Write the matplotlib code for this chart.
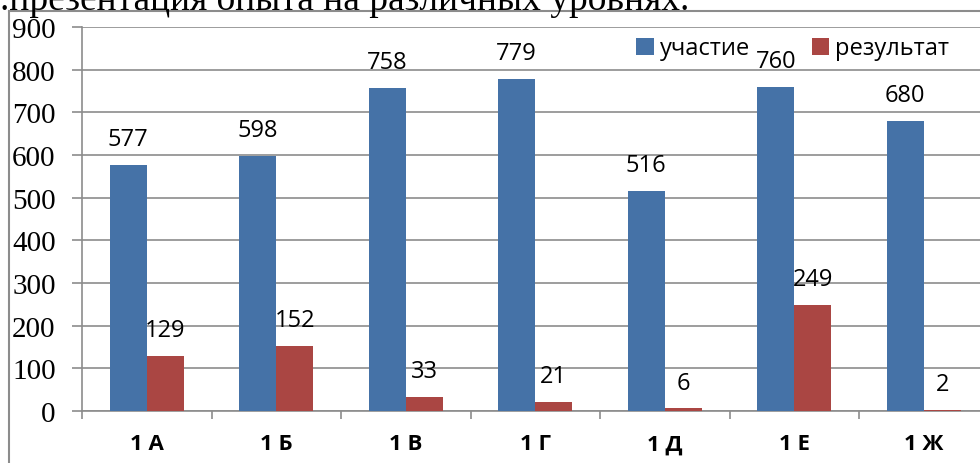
import matplotlib
matplotlib.use("Agg")
import matplotlib.pyplot as plt
import numpy as np
from matplotlib.lines import Line2D

categories = ["1 А", "1 Б", "1 В", "1 Г", "1 Д", "1 Е", "1 Ж"]
participation = [577, 598, 758, 779, 516, 760, 680]
results = [129, 152, 33, 21, 6, 249, 2]
series_names = ["участие", "результат"]
yticks = [0, 100, 200, 300, 400, 500, 600, 700, 800, 900]

blue = "#4572A7"
red = "#AA4643"
grid = "#8c8c8c"

fig = plt.figure(figsize=(9.8, 4.64), dpi=100)
W, H = 980, 464

# outer frame lines and cut-off heading
fig.add_artist(Line2D([9 / W, 9 / W], [0, 1 - 12 / H], color=grid, lw=1.5))
fig.add_artist(Line2D([9 / W, 1], [1 - 12 / H, 1 - 12 / H], color=grid, lw=1.5))
fig.text(0.0, 1 - 10 / H, ".презентация опыта на различных уровнях.",
         family="Liberation Serif", fontsize=27, va="baseline", ha="left")

x0, x1 = 82, 82 + 7 * 129.5
ytop, ybot = 28, 412
ax = fig.add_axes([x0 / W, (H - ybot) / H, (x1 - x0) / W, (ybot - ytop) / H])

x = np.arange(len(categories))
bw = 0.286
ax.bar(x - bw / 2, participation, bw, color=blue, label=series_names[0], zorder=3)
ax.bar(x + bw / 2, results, bw, color=red, label=series_names[1], zorder=3)

for xi, v in zip(x, participation):
    ax.annotate(str(v), (xi - bw / 2, v), xytext=(0, 10), textcoords="offset points",
                ha="center", va="bottom", fontsize=17, family="Open Sans")
for xi, v in zip(x, results):
    ax.annotate(str(v), (xi + bw / 2, v), xytext=(0, 10), textcoords="offset points",
                ha="center", va="bottom", fontsize=17, family="Open Sans")

ax.set_xlim(-0.5, len(categories) - 0.5)
ax.set_ylim(0, 900)
ax.set_yticks(yticks)
ax.set_yticklabels([str(t) for t in yticks], family="Liberation Serif", fontsize=21)
ax.yaxis.grid(True, color=grid, lw=1.2, zorder=0)
ax.set_xticks(x)
ax.set_xticklabels(categories, family="Open Sans", fontweight="bold", fontsize=16)
ax.set_xticks(np.arange(len(categories) + 1) - 0.5, minor=True)
ax.tick_params(axis="x", which="major", length=0, pad=16)
ax.tick_params(axis="x", which="minor", length=6, color=grid, width=1.2)
ax.tick_params(axis="y", length=7, color=grid, width=1.2, pad=12)
for s in ["top", "right"]:
    ax.spines[s].set_visible(False)
for s in ["left", "bottom"]:
    ax.spines[s].set_color(grid)
    ax.spines[s].set_linewidth(1.2)

ax.legend(loc="upper left", bbox_to_anchor=(545 / (x1 - x0), 1.0), ncol=2, frameon=False,
          prop={"family": "Open Sans", "size": 17}, handlelength=0.75, handleheight=0.75,
          handletextpad=0.25, columnspacing=2.6, borderaxespad=0.0)

fig.savefig("out.png", dpi=100)
